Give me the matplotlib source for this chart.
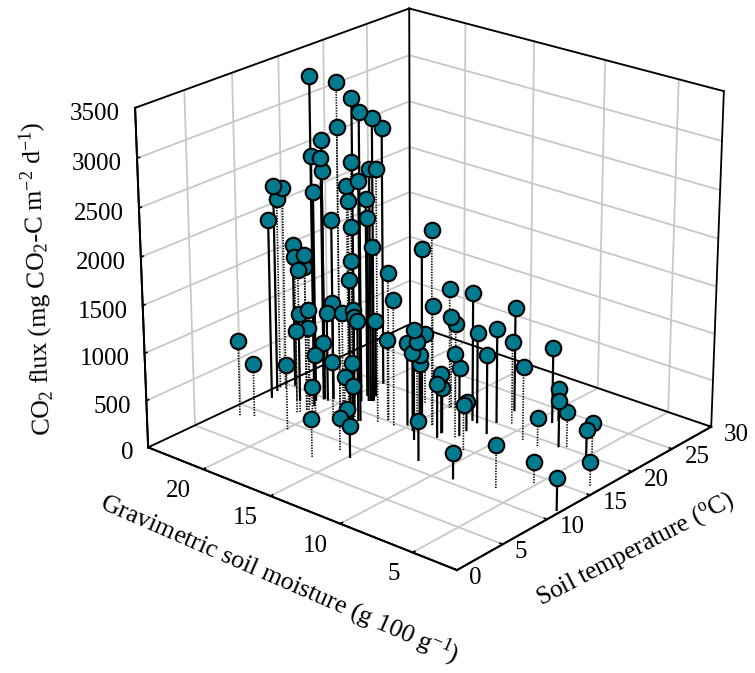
import matplotlib
matplotlib.use("Agg")
import matplotlib.pyplot as plt
from mpl_toolkits.mplot3d import proj3d

plt.rcParams['font.family'] = ['Liberation Serif', 'DejaVu Serif']
plt.rcParams['mathtext.fontset'] = 'custom'
plt.rcParams['mathtext.rm'] = 'Liberation Serif'
plt.rcParams['mathtext.it'] = 'Liberation Serif:italic'
plt.rcParams['mathtext.default'] = 'regular'

W, H = 755, 673

temperature = [
    13.5, 14.8, 14.8, 16.5, 17.2, 20.0, 14.5, 15.0, 16.2, 14.9,
    15.0, 14.5, 17.0, 14.4, 13.8, 15.2, 14.3, 13.7, 14.4, 14.2,
    14.6, 17.5, 12.5, 15.4, 16.9, 14.8, 17.1, 15.3, 12.5, 13.3,
    12.5, 11.9, 13.7, 11.6, 15.2, 14.7, 15.4, 13.3, 13.5, 14.9,
    14.7, 14.1, 13.9, 13.7, 17.9, 11.7, 12.6, 8.5, 9.1, 9.0,
    12.0, 14.9, 13.1, 13.4, 15.1, 13.7, 13.4, 11.8, 11.4, 6.7,
    8.9, 8.5, 16.6, 17.2, 19.8, 19.3, 16.7, 22.7, 20.0, 20.2,
    20.2, 13.9, 19.3, 19.2, 15.5, 15.2, 20.7, 22.9, 18.2, 17.1,
    15.0, 17.1, 16.1, 16.6, 19.0, 16.1, 15.3, 16.2, 23.5, 19.9,
    20.2, 20.3, 18.7, 18.9, 17.6, 14.8, 11.4, 11.5, 10.7, 13.9,
    16.2, 11.6,
]
moisture = [
    20.9, 19.8, 18.7, 19.3, 18.8, 19.9, 19.6, 21.1, 22.7, 21.1,
    21.1, 18.6, 18.9, 16.7, 17.6, 19.4, 21.3, 23.9, 23.7, 24.0,
    18.9, 19.5, 23.5, 20.7, 19.0, 18.8, 18.8, 23.6, 20.8, 22.1,
    20.8, 20.9, 18.1, 16.9, 16.4, 15.7, 20.7, 21.1, 22.0, 20.8,
    19.5, 18.3, 18.1, 17.7, 19.1, 21.0, 20.7, 23.2, 22.5, 19.9,
    19.8, 21.1, 19.2, 17.9, 16.4, 18.7, 17.9, 19.9, 17.0, 16.5,
    15.9, 14.9, 14.1, 15.2, 14.8, 12.8, 14.1, 11.8, 14.8, 14.6,
    11.6, 13.7, 16.3, 12.4, 15.2, 14.3, 10.8, 9.2, 11.1, 15.3,
    14.5, 15.3, 12.1, 12.1, 9.0, 13.1, 12.9, 13.1, 9.1, 7.0,
    6.6, 4.9, 4.4, 7.9, 12.2, 10.7, 11.8, 6.4, 8.9, 5.2,
    2.7, 2.3,
]
flux = [
    3476, 3415, 3294, 3067, 3006, 2754, 2974, 2762, 2479, 2575,
    2440, 2658, 2479, 2674, 2534, 2347, 2239, 2209, 2169, 2046,
    2237, 2119, 1916, 1925, 1965, 1965, 1659, 1533, 1670, 1552,
    1544, 1531, 1684, 1629, 1577, 1341, 1039, 1035, 941, 951,
    1023, 1136, 1081, 1069, 813, 881, 892, 804, 566, 691,
    674, 605, 577, 619, 866, 415, 370, 327, 260, 406,
    343, 331, 2073, 1801, 1290, 1366, 1278, 1107, 980, 905,
    1004, 1163, 755, 961, 875, 946, 886, 801, 839, 674,
    829, 577, 890, 721, 782, 626, 571, 476, 338, 483,
    376, 342, 372, 301, 304, 482, 416, 451, 264, 222,
    253, 333,
]
solid_stem = [
    1, 0, 1, 1, 1, 1, 0, 1, 1, 1,
    1, 0, 1, 0, 1, 0, 1, 1, 0, 0,
    0, 1, 1, 1, 1, 0, 1, 1, 0, 0,
    0, 0, 0, 1, 0, 0, 1, 0, 1, 1,
    0, 0, 0, 1, 1, 0, 0, 0, 0, 0,
    0, 1, 0, 1, 0, 0, 1, 0, 1, 0,
    0, 1, 0, 1, 0, 1, 0, 1, 0, 0,
    1, 1, 0, 1, 1, 0, 0, 1, 1, 1,
    1, 1, 0, 1, 0, 1, 1, 1, 1, 1,
    0, 0, 1, 0, 1, 0, 1, 0, 1, 0,
    0, 1,
]
temp_ticks = [0, 5, 10, 15, 20, 25, 30]
moist_ticks = [5, 10, 15, 20]
flux_ticks = [0, 500, 1000, 1500, 2000, 2500, 3000, 3500]

t_lim = (0, 30)
m_lim = (2.015, 24.212)
f_lim = (0, 3500)

fig = plt.figure(figsize=(W/100, H/100), dpi=100)
ax = fig.add_axes([90.8/W, 60.2/H, 663.7/W, 663.7/H], projection='3d')
ax.computed_zorder = False
ax.patch.set_alpha(0)
ax.set_xlim(*t_lim, view_margin=0)
ax.set_ylim(*m_lim, view_margin=0)
ax.set_zlim(*f_lim, view_margin=0)
ax.view_init(elev=22.692, azim=-139.775)
ax.set_proj_type('persp', focal_length=0.882)
ax.set_box_aspect((1.118, 1.116, 1))

ax.set_xticks(temp_ticks)
ax.set_yticks(moist_ticks)
ax.set_zticks(flux_ticks)
ax.set_xticklabels([])
ax.set_yticklabels([])
ax.set_zticklabels([])

for axis in (ax.xaxis, ax.yaxis, ax.zaxis):
    axis.set_pane_color('white')
    axis.pane.set_edgecolor('white')
    axis.line.set_color('black')
    axis.line.set_linewidth(1.4)
    axis._axinfo['grid'].update(color='#c8c8c8', linewidth=1.3)
    axis._axinfo['tick'].update(inward_factor=0, outward_factor=0.1, linewidth={True: 1.2, False: 1.2})

# back edges of the box
t0, t1 = t_lim
m0, m1 = m_lim
f0, f1 = f_lim
edges = [
    ([t0, t1], [m1, m1], [f1, f1]),
    ([t1, t1], [m1, m0], [f1, f1]),
    ([t0, t0], [m1, m1], [f0, f1]),
    ([t1, t1], [m0, m0], [f0, f1]),
    ([t1, t1], [m1, m1], [f0, f1]),
    ([t0, t1], [m1, m1], [f0, f0]),
    ([t1, t1], [m1, m0], [f0, f0]),
    ([t0, t1], [m0, m0], [f0, f0]),
    ([t0, t0], [m1, m0], [f0, f0]),
]
for ex, ey, ez in edges:
    ax.plot(ex, ey, ez, color='black', lw=1.3, zorder=1.5)

for t, m, f, s in zip(temperature, moisture, flux, solid_stem):
    if s:
        ax.plot([t, t], [m, m], [0, f], color='black', lw=1.6, zorder=2)
    else:
        ax.plot([t, t], [m, m], [0, f], color='black', lw=1.2, ls=(0, (0.8, 0.8)), zorder=2)

ax.scatter(temperature, moisture, flux, s=125, c='#007a8e', edgecolors='black',
           linewidths=1.5, depthshade=False, zorder=3)


def tick_label(x, y, z, text, dx, dy, ha='center'):
    u, v, _ = proj3d.proj_transform(x, y, z, ax.get_proj())
    ax.annotate(text, xy=(u, v), xytext=(dx*0.72, -dy*0.72), textcoords='offset points',
                ha=ha, va='center', fontsize=18, annotation_clip=False)


for t in temp_ticks:
    tick_label(t, m0, 0, str(t), 18 if t < 10 else 25, 8)
for m in moist_ticks:
    tick_label(0, m, 0, str(m), -19 if m < 10 else -25, 22)
for f in flux_ticks:
    tick_label(0, m1, f, str(f), -15, 6, ha='right')

fig.text(38/W, 1-278/H, r"CO$_2$ flux (mg CO$_2$-C m$^{-2}$ d$^{-1}$)", fontsize=18.5,
         rotation=92, ha='center', va='center', rotation_mode='anchor')
fig.text(279/W, 1-579/H, r"Gravimetric soil moisture (g 100 g$^{-1}$)", fontsize=18.6,
         rotation=-23.5, ha='center', va='center', rotation_mode='anchor')
fig.text(635/W, 1-549/H, r"Soil temperature ($^{o}$C)", fontsize=18.4,
         rotation=27.5, ha='center', va='center', rotation_mode='anchor')

fig.savefig('out.png', dpi=100)
